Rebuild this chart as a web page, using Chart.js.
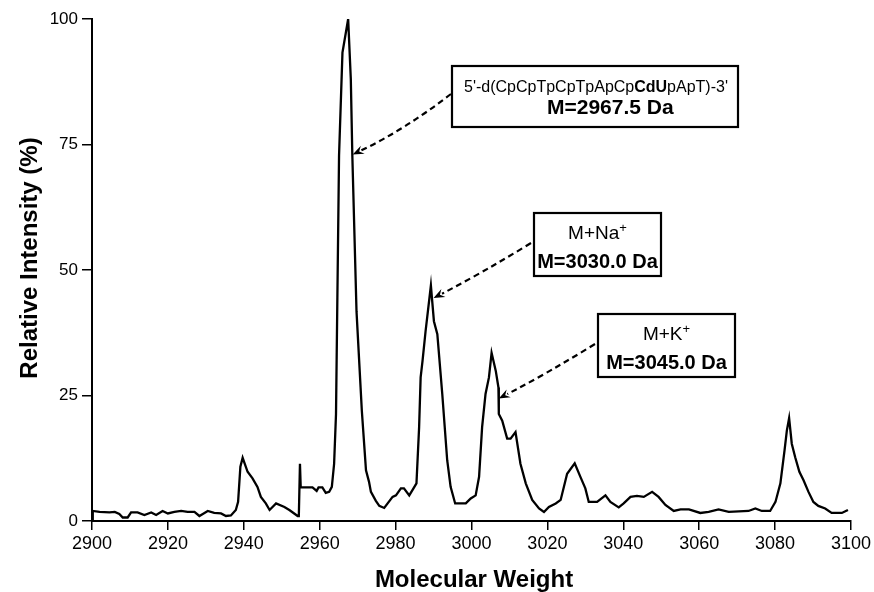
<!DOCTYPE html>
<html>
<head>
<meta charset="utf-8">
<script src="https://cdn.jsdelivr.net/npm/chart.js@4.4.0/dist/chart.umd.min.js"></script>
<style>
  html, body { margin: 0; padding: 0; background: #fff; }
</style>
</head>
<body>
<canvas id="spectrum" width="874" height="592"></canvas>
<script>
// mass spectrum: molecular weight (Da) -> relative intensity (%)
const massValues = [
  2900, 2900.2, 2902, 2904.6, 2906, 2907.2, 2908.1, 2909.4, 2910.3, 2912,
  2913.8, 2915.6, 2916.9, 2918.6, 2920, 2921.7, 2923.5, 2925.2, 2927, 2928.3,
  2929.2, 2930.5, 2932.2, 2934, 2935.3, 2936.6, 2937.9, 2938.5, 2939.1, 2939.7,
  2941, 2942.3, 2943.6, 2944.5, 2945.8, 2946.8, 2948.5, 2950.7, 2952, 2954.2,
  2954.5, 2954.8, 2955.0, 2958.1, 2959.2, 2959.7, 2960.7, 2961.6, 2962.5, 2963.2,
  2963.8, 2964.3, 2965.1, 2966, 2967.5, 2968.2, 2968.6, 2969.7, 2971.1, 2972.2,
  2973, 2973.5, 2974.8, 2975.7, 2977, 2979.2, 2980.1, 2981.4, 2982.2, 2983.6,
  2984.4, 2985.5, 2986.2, 2986.6, 2987.1, 2987.9, 2989.3, 2990.1, 2991, 2992.3,
  2993.6, 2994.5, 2995.7, 2998.5, 2999.8, 3001.1, 3002, 3002.8, 3003.7, 3004.6,
  3005.3, 3006.4, 3007.1, 3007.2, 3008.1, 3009.4, 3010.3, 3011.6, 3012.9, 3014.3,
  3016, 3017.8, 3019.1, 3020.4, 3022.2, 3023.5, 3025.2, 3027.2, 3028.7, 3030,
  3030.9, 3033.1, 3035.3, 3036.6, 3038.8, 3040.1, 3041.9, 3043.6, 3045.4, 3047.6,
  3049.3, 3051.1, 3053.3, 3055.1, 3057.3, 3060.3, 3062.5, 3065.1, 3067.8, 3073,
  3074.8, 3076.5, 3078.7, 3080.1, 3081.4, 3082.5, 3083.1, 3083.7, 3084.4, 3085.3,
  3086.4, 3087.5, 3088.8, 3090.1, 3091.4, 3093.2, 3094.9, 3097.6, 3099.2
];
const intensityValues = [
  0, 2.0, 1.8, 1.7, 1.8, 1.4, 0.7, 0.7, 1.7, 1.7,
  1.2, 1.7, 1.2, 2.0, 1.5, 1.8, 2.0, 1.8, 1.8, 1.0,
  1.4, 2.0, 1.6, 1.5, 1.0, 1.1, 2.2, 3.8, 10.8, 12.6,
  9.8, 8.5, 6.8, 4.8, 3.5, 2.2, 3.5, 2.8, 2.2, 1.0,
  1.0, 11.4, 6.7, 6.7, 6.0, 6.7, 6.7, 5.6, 5.8, 6.8,
  11.4, 21.3, 72.8, 93.3, 100, 88, 72.8, 41.8, 22, 10.1,
  7.8, 5.8, 4.0, 3.0, 2.6, 4.8, 5.1, 6.5, 6.5, 5.1,
  6.1, 7.5, 18.7, 28.6, 31.9, 37.8, 46.9, 39.8, 37.2, 25.3,
  12.1, 6.8, 3.5, 3.5, 4.5, 5.1, 8.8, 18.7, 25.3, 28.6,
  33.5, 29.9, 26.6, 21.3, 20.0, 16.4, 16.4, 17.7, 11.4, 7.5,
  4.2, 2.5, 1.8, 2.8, 3.5, 4.2, 9.4, 11.5, 8.8, 6.5,
  3.8, 3.8, 5.1, 3.8, 2.7, 3.5, 4.8, 5.0, 4.8, 5.8,
  4.8, 3.2, 2.0, 2.3, 2.3, 1.6, 1.8, 2.3, 1.8, 2.0,
  2.5, 2.0, 2.0, 3.8, 7.5, 14.1, 18.0, 20.5, 15.4, 12.7,
  9.8, 8.1, 5.8, 3.8, 3.0, 2.5, 1.6, 1.6, 2.2
];

const xTickValues = [2900, 2920, 2940, 2960, 2980, 3000, 3020, 3040, 3060, 3080, 3100];
const yTickValues = [0, 25, 50, 75, 100];

// where each label arrow points (mass, intensity)
const labelTargetMass = [2968.7, 2990.0, 3007.2];
const labelTargetIntensity = [73.0, 44.4, 24.4];

const FONT = "'Liberation Sans', Arial, Helvetica, sans-serif";

// boxes + dashed arrows (pixel layout)
const boxes = [
  { x: 452, y: 66, w: 286, h: 61, from: [451, 94], bend: 6 },
  { x: 534, y: 213, w: 127, h: 63, from: [531, 243], bend: 2 },
  { x: 598, y: 314, w: 137, h: 63, from: [595, 344], bend: 2 }
];

function drawRich(ctx, parts, x, y) {
  let cx = x;
  parts.forEach(p => {
    ctx.font = p.font;
    ctx.fillText(p.t, cx, y + (p.dy || 0));
    cx += ctx.measureText(p.t).width;
  });
  return cx - x;
}

function richWidth(ctx, parts) {
  let w = 0;
  parts.forEach(p => { ctx.font = p.font; w += ctx.measureText(p.t).width; });
  return w;
}

function drawArrow(ctx, x0, y0, x1, y1, bend) {
  // slight curve like the original hand-drawn callouts
  const mx = (x0 + x1) / 2, my = (y0 + y1) / 2;
  const dx = x1 - x0, dy = y1 - y0;
  const len = Math.sqrt(dx * dx + dy * dy);
  const cx = mx + (dy / len) * bend, cy = my - (dx / len) * bend;
  const ang = Math.atan2(y1 - cy, x1 - cx);
  const headLen = 12;
  const ex = x1 - Math.cos(ang) * headLen * 0.8, ey = y1 - Math.sin(ang) * headLen * 0.8;

  ctx.save();
  ctx.strokeStyle = '#000';
  ctx.lineWidth = 2.2;
  ctx.setLineDash([6, 4]);
  ctx.beginPath();
  ctx.moveTo(x0, y0);
  ctx.quadraticCurveTo(cx, cy, ex, ey);
  ctx.stroke();
  ctx.setLineDash([]);

  // barbed head
  ctx.fillStyle = '#000';
  ctx.beginPath();
  ctx.moveTo(x1, y1);
  ctx.lineTo(x1 - Math.cos(ang - 0.38) * headLen, y1 - Math.sin(ang - 0.38) * headLen);
  ctx.lineTo(x1 - Math.cos(ang) * headLen * 0.6, y1 - Math.sin(ang) * headLen * 0.6);
  ctx.lineTo(x1 - Math.cos(ang + 0.38) * headLen, y1 - Math.sin(ang + 0.38) * headLen);
  ctx.closePath();
  ctx.fill();
  ctx.restore();
}

const calloutPlugin = {
  id: 'callouts',
  afterDraw(chart) {
    const ctx = chart.ctx;
    const xs = chart.scales.x, ys = chart.scales.y;

    boxes.forEach((b, i) => {
      const tx = xs.getPixelForValue(labelTargetMass[i]);
      const ty = ys.getPixelForValue(labelTargetIntensity[i]);
      drawArrow(ctx, b.from[0], b.from[1], tx, ty, b.bend);

      ctx.save();
      ctx.fillStyle = '#fff';
      ctx.fillRect(b.x, b.y, b.w, b.h);
      ctx.strokeStyle = '#000';
      ctx.lineWidth = 2.2;
      ctx.strokeRect(b.x, b.y, b.w, b.h);
      ctx.restore();
    });

    ctx.save();
    ctx.fillStyle = '#000';
    ctx.textBaseline = 'middle';
    ctx.textAlign = 'left';

    const reg16 = '16px ' + FONT, bold16 = 'bold 16px ' + FONT;
    const reg19 = '19px ' + FONT, bold20 = 'bold 20px ' + FONT, sup = '13px ' + FONT;

    // box 1
    const b1 = boxes[0];
    drawRich(ctx, [
      { t: "5'-d(CpCpTpCpTpApCp", font: reg16 },
      { t: 'CdU', font: bold16 },
      { t: "pApT)-3'", font: reg16 }
    ], b1.x + 12, b1.y + 22);
    drawRich(ctx, [{ t: 'M=2967.5 Da', font: 'bold 21px ' + FONT }], b1.x + 95, b1.y + 42);

    // box 2 and 3
    [[boxes[1], 'M+Na', 'M=3030.0 Da'], [boxes[2], 'M+K', 'M=3045.0 Da']].forEach(([b, ion, mass]) => {
      const p1 = [{ t: ion, font: reg19 }, { t: '+', font: sup, dy: -6 }];
      const w1 = richWidth(ctx, p1);
      drawRich(ctx, p1, b.x + (b.w - w1) / 2, b.y + 21);
      const p2 = [{ t: mass, font: bold20 }];
      const w2 = richWidth(ctx, p2);
      drawRich(ctx, p2, b.x + (b.w - w2) / 2, b.y + 49);
    });

    // axis titles
    ctx.font = 'bold 24px ' + FONT;
    ctx.textAlign = 'center';
    ctx.fillText('Molecular Weight', 474, 580);
    ctx.translate(30, 258);
    ctx.rotate(-Math.PI / 2);
    ctx.fillText('Relative Intensity (%)', 0, 0);
    ctx.restore();
  }
};

const ctx = document.getElementById('spectrum').getContext('2d');
new Chart(ctx, {
  type: 'line',
  data: {
    datasets: [{
      data: massValues.map((m, i) => ({ x: m, y: intensityValues[i] })),
      borderColor: '#000',
      borderWidth: 2.3,
      pointRadius: 0,
      tension: 0,
      fill: false
    }]
  },
  options: {
    responsive: false,
    animation: false,
    layout: { padding: { top: 19, right: 22, left: 0, bottom: 0 } },
    plugins: { legend: { display: false }, tooltip: { enabled: false } },
    scales: {
      x: {
        type: 'linear',
        min: 2900,
        max: 3100,
        afterBuildTicks: s => { s.ticks = xTickValues.map(v => ({ value: v })); },
        afterFit: s => { s.height = 71; },
        grid: { drawOnChartArea: false, color: '#000', tickLength: 9, lineWidth: 1.5 },
        border: { color: '#000', width: 2 },
        ticks: { color: '#000', font: { family: FONT, size: 18 }, padding: 3, maxRotation: 0, autoSkip: false, callback: v => String(v) }
      },
      y: {
        min: 0,
        max: 100,
        afterBuildTicks: s => { s.ticks = yTickValues.map(v => ({ value: v })); },
        afterFit: s => { s.width = 92; },
        grid: { drawOnChartArea: false, color: '#000', tickLength: 10, lineWidth: 1.5 },
        border: { color: '#000', width: 2 },
        ticks: { color: '#000', font: { family: FONT, size: 17 }, padding: 4, callback: v => String(v) }
      }
    }
  },
  plugins: [calloutPlugin]
});
</script>
</body>
</html>
